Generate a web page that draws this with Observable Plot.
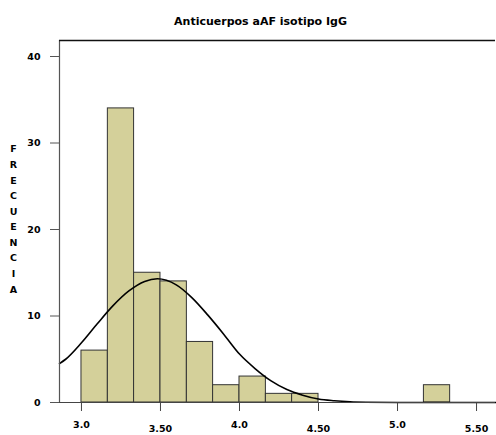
<!DOCTYPE html>
<html><head><meta charset="utf-8">
<script src="https://cdn.jsdelivr.net/npm/d3@7"></script>
<script src="https://cdn.jsdelivr.net/npm/@observablehq/plot@0.6"></script>
<style>body{margin:0;background:#fff} svg{display:block}</style>
</head><body><div id="chart"></div>
<script>
const title = "Anticuerpos aAF isotipo IgG";
const yLabel = "FRECUENCIA";
// histogram bins
const binLow  = [3.0, 3.167, 3.333, 3.5, 3.667, 3.833, 4.0, 4.167, 4.333, 5.167];
const binHigh = [3.167, 3.333, 3.5, 3.667, 3.833, 4.0, 4.167, 4.333, 4.5, 5.333];
const counts  = [6, 34, 15, 14, 7, 2, 3, 1, 1, 2];
// fitted curve
const curveX = [2.861, 2.9, 3.0, 3.1, 3.2, 3.3, 3.4, 3.48, 3.6, 3.7, 3.8, 3.9, 4.0, 4.1, 4.2, 4.3, 4.4, 4.5, 4.6, 4.7, 4.8, 5.0, 5.62];
const curveY = [4.5, 5.0, 6.9, 9.1, 11.2, 12.9, 14.0, 14.3, 13.6, 12.1, 10.1, 7.9, 5.6, 3.9, 2.5, 1.5, 0.85, 0.4, 0.2, 0.08, 0.03, 0, 0];
// axes
const yTicks = [0, 10, 20, 30, 40];
const xTicks = [3.0, 3.5, 4.0, 4.5, 5.0, 5.5];
const xTickLabels = ["3.0", "3.50", "4.0", "4.50", "5.0", "5.50"];
const xDomain = [2.861, 5.62];
const yDomain = [0, 41.85];

const bars = binLow.map((x1, i) => ({x1, x2: binHigh[i], y: counts[i]}));
const curve = curveX.map((x, i) => ({x, y: curveY[i]}));
const labels = xTicks.map((x, i) => ({x, text: xTickLabels[i], i}));

const chart = Plot.plot({
  width: 496, height: 435,
  marginTop: 40, marginLeft: 59, marginRight: 1, marginBottom: 33,
  x: {domain: xDomain},
  y: {domain: yDomain},
  style: {fontFamily: "'DejaVu Sans', sans-serif", fontSize: "9.5px", fontWeight: "bold", background: "#fff", color: "#000"},
  marks: [
    Plot.rectY(bars, {x1: "x1", x2: "x2", y: "y", fill: "#D4D09A", stroke: "#333", strokeWidth: 1}),
    Plot.line(curve, {x: "x", y: "y", stroke: "#000", strokeWidth: 1.6, curve: "monotone-x"}),
    Plot.ruleX([xDomain[0]], {y1: yDomain[0], y2: yDomain[1], stroke: "#555", strokeWidth: 1.2}),
    Plot.ruleY([yDomain[1]], {stroke: "#111", strokeWidth: 1.5}),
    Plot.ruleY([0], {stroke: "#444", strokeWidth: 1.2}),
    Plot.axisY({ticks: yTicks, tickSize: 9, tickPadding: 10, stroke: "#555", tickFormat: d => String(d), label: null, fontWeight: "bold"}),
    Plot.axisX({ticks: xTicks, tickSize: 9, stroke: "#444", tickFormat: () => "", label: null}),
    Plot.text(labels.filter(d => d.i % 2 === 0), {x: "x", text: "text", frameAnchor: "bottom", dy: 22, lineAnchor: "middle", fontWeight: "bold"}),
    Plot.text(labels.filter(d => d.i % 2 === 1), {x: "x", text: "text", frameAnchor: "bottom", dy: 26, lineAnchor: "middle", fontWeight: "bold"}),
    Plot.text([title], {frameAnchor: "top", dy: -19, dx: -17, lineAnchor: "middle", fontSize: 11, fontWeight: "bold"}),
    Plot.text([yLabel.split("").join("\n")], {frameAnchor: "left", dx: -46, dy: -4, textAnchor: "middle", lineAnchor: "middle", lineHeight: 1.64, fontWeight: "bold"})
  ]
});
document.getElementById("chart").appendChild(chart);
</script>
</body></html>
